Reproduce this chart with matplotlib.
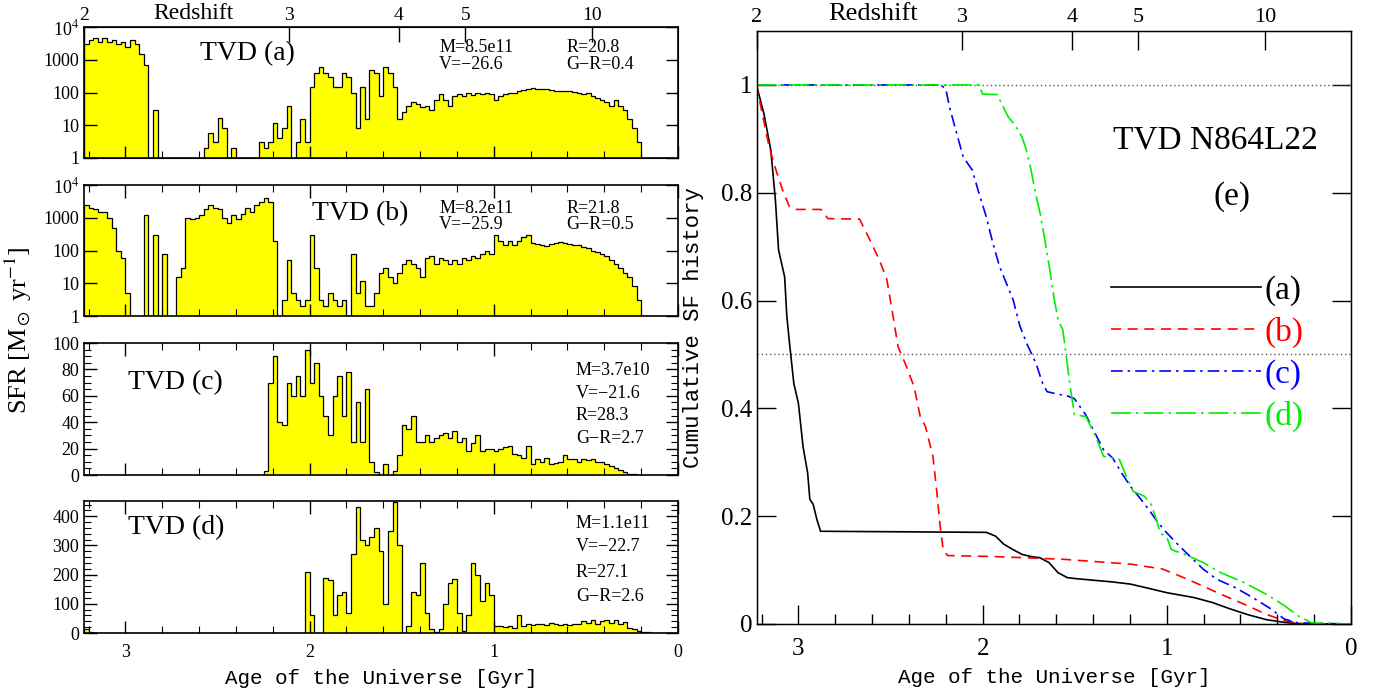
import numpy as np
import matplotlib
matplotlib.use("Agg")
import matplotlib.pyplot as plt
from matplotlib.ticker import MultipleLocator, FixedLocator, FixedFormatter, NullFormatter, LogLocator

plt.rcParams['font.family'] = ['Liberation Serif', 'DejaVu Serif']
plt.rcParams['mathtext.fontset'] = 'stix'

# ---------------- data ----------------
AGE_MAX = 3.225          # age of the Universe at z=2 [Gyr]
BIN = 0.025              # histogram bin width [Gyr]

# SFR histograms, bins listed left (age 3.225) -> right (age 0)
sfr_a = [3000, 4000, 4500, 3500, 4500, 3500, 4000, 3000, 3500, 2500,
         4000, 3000, 1500, 700, 0, 30, 0, 0, 0, 0,
         0, 0, 0, 0, 0, 0, 2, 6, 3, 17,
         8, 0, 2, 0, 0, 0, 0, 0, 3, 2,
         3, 12, 4, 8, 40, 0, 3, 15, 3, 150,
         400, 600, 400, 300, 150, 150, 400, 300, 100, 8,
         150, 15, 500, 400, 80, 600, 400, 150, 15, 25,
         40, 50, 45, 35, 40, 30, 60, 90, 60, 40,
         80, 90, 80, 100, 85, 95, 90, 100, 90, 60,
         80, 90, 100, 100, 110, 120, 130, 140, 130, 130,
         125, 120, 110, 110, 115, 110, 105, 100, 90, 100,
         80, 70, 60, 50, 40, 60, 40, 30, 15, 8,
         3, 1, 0, 0, 0, 0, 0, 0, 0]

sfr_b = [2500, 2000, 1800, 1500, 1500, 1000, 500, 100, 60, 5,
         0, 0, 0, 1200, 0, 300, 0, 80, 0, 0,
         15, 30, 1000, 900, 1000, 1200, 1800, 2500, 2000, 1800,
         1000, 700, 1200, 900, 1300, 2000, 1500, 2500, 3000, 4000,
         3000, 200, 0, 3, 50, 5, 3, 2, 3, 300,
         30, 3, 2, 5, 3, 2, 3, 1, 80, 5,
         12, 2, 2, 5, 20, 30, 15, 10, 20, 40,
         50, 40, 30, 15, 60, 70, 40, 60, 50, 40,
         50, 40, 60, 50, 70, 60, 80, 100, 80, 300,
         200, 150, 200, 150, 200, 250, 300, 170, 160, 150,
         140, 160, 170, 180, 170, 160, 150, 150, 130, 120,
         100, 90, 80, 70, 50, 40, 30, 20, 15, 8,
         3, 1, 0, 0, 0, 0, 0, 0, 0]

sfr_c = [0, 0, 0, 0, 0, 0, 0, 0, 0, 0,
         0, 0, 0, 0, 0, 0, 0, 0, 0, 0,
         0, 0, 0, 0, 0, 0, 0, 0, 0, 0,
         0, 0, 0, 0, 0, 0, 0, 0, 0, 3,
         70, 90, 40, 38, 70, 60, 75, 60, 95, 70,
         85, 60, 45, 30, 60, 75, 45, 78, 25, 55,
         25, 65, 10, 2, 0, 8, 0, 3, 15, 38,
         35, 45, 25, 25, 30, 25, 28, 30, 32, 28,
         33, 25, 28, 18, 24, 30, 18, 20, 20, 18,
         20, 21, 22, 16, 15, 13, 22, 8, 12, 10,
         13, 8, 9, 10, 15, 12, 12, 10, 12, 11,
         12, 10, 10, 8, 7, 5, 4, 2, 1, 0.5,
         0, 0, 0, 0, 0, 0, 0, 0, 0]

sfr_d = [15, 2, 0, 0, 0, 0, 0, 0, 0, 0,
         0, 0, 0, 0, 0, 0, 0, 0, 0, 0,
         0, 0, 0, 0, 0, 0, 0, 0, 0, 0,
         0, 0, 0, 0, 0, 0, 0, 0, 0, 0,
         0, 0, 0, 0, 0, 0, 0, 0, 210, 60,
         0, 0, 190, 180, 60, 130, 140, 70, 270, 430,
         320, 300, 330, 360, 280, 100, 350, 450, 300, 0,
         25, 140, 130, 240, 70, 15, 5, 12, 100, 170,
         185, 70, 8, 60, 240, 200, 110, 170, 130, 25,
         25, 20, 25, 18, 60, 25, 30, 28, 30, 32,
         28, 35, 30, 28, 30, 28, 32, 30, 40, 35,
         45, 30, 40, 45, 35, 45, 30, 38, 18, 12,
         6, 4, 2, 0, 0, 0, 0, 0, 0]

# cumulative SF histories (age [Gyr], fraction)
cum_a_age = [3.228, 3.187, 3.15, 3.125, 3.108, 3.075, 3.063, 3.05, 3.025, 3.0,
             2.975, 2.95, 2.938, 2.92, 2.90, 2.88, 1.98, 1.93, 1.885, 1.835,
             1.785, 1.735, 1.69, 1.64, 1.59, 1.54, 1.49, 1.294, 1.197, 1.097,
             0.999, 0.852, 0.754, 0.656, 0.557, 0.459, 0.361, 0.287, 0.0]
cum_a = [1.0, 0.946, 0.879, 0.786, 0.694, 0.644, 0.571, 0.526, 0.446, 0.409,
         0.329, 0.28, 0.231, 0.222, 0.194, 0.172, 0.170, 0.163, 0.148, 0.138,
         0.129, 0.125, 0.123, 0.114, 0.095, 0.086, 0.084, 0.078, 0.074, 0.066,
         0.058, 0.049, 0.040, 0.028, 0.017, 0.008, 0.003, 0.0006, 0.0]

cum_b_age = [3.228, 3.196, 3.159, 3.122, 3.086, 3.049, 3.013, 2.877, 2.84, 2.668,
             2.62, 2.56, 2.52, 2.483, 2.459, 2.42, 2.372, 2.339, 2.31, 2.27,
             2.25, 2.231, 2.214, 2.19, 1.93, 1.56, 1.195, 1.024, 0.95, 0.828,
             0.705, 0.582, 0.46, 0.361, 0.263, 0.0]
cum_b = [1.0, 0.946, 0.885, 0.842, 0.805, 0.774, 0.769, 0.769, 0.752, 0.751,
         0.718, 0.675, 0.639, 0.564, 0.514, 0.483, 0.44, 0.385, 0.366, 0.311,
         0.249, 0.182, 0.138, 0.127, 0.125, 0.12, 0.111, 0.102, 0.092, 0.074,
         0.055, 0.037, 0.018, 0.006, 0.0006, 0.0]

cum_c_age = [3.228, 2.23, 2.20, 2.18, 2.14, 2.105, 2.056, 2.02, 1.98, 1.944,
             1.908, 1.871, 1.834, 1.797, 1.76, 1.71, 1.674, 1.65, 1.614, 1.54,
             1.502, 1.44, 1.39, 1.343, 1.294, 1.245, 1.197, 1.147, 1.097, 1.048,
             1.0, 0.95, 0.876, 0.803, 0.729, 0.631, 0.533, 0.435, 0.361, 0.287, 0.0]
cum_c = [1.0, 1.0, 0.993, 0.959, 0.909, 0.866, 0.842, 0.799, 0.755, 0.706,
         0.663, 0.632, 0.601, 0.552, 0.52, 0.483, 0.446, 0.431, 0.428, 0.423,
         0.418, 0.388, 0.354, 0.323, 0.308, 0.28, 0.255, 0.234, 0.212, 0.188,
         0.169, 0.151, 0.126, 0.102, 0.083, 0.068, 0.049, 0.028, 0.009, 0.002, 0.0]

cum_d_age = [3.228, 2.02, 2.0, 1.92, 1.897, 1.86, 1.823, 1.786, 1.762, 1.737,
             1.713, 1.688, 1.662, 1.638, 1.614, 1.59, 1.565, 1.557, 1.527, 1.502,
             1.44, 1.39, 1.343, 1.294, 1.257, 1.22, 1.183, 1.122, 1.085, 1.06,
             1.036, 0.999, 0.975, 0.901, 0.803, 0.705, 0.582, 0.459, 0.361, 0.287,
             0.214, 0.0]
cum_d = [1.0, 1.0, 0.983, 0.982, 0.965, 0.94, 0.925, 0.903, 0.879, 0.842,
         0.799, 0.762, 0.712, 0.663, 0.608, 0.564, 0.546, 0.526, 0.446, 0.388,
         0.385, 0.351, 0.311, 0.308, 0.305, 0.274, 0.246, 0.237, 0.222, 0.197,
         0.169, 0.16, 0.138, 0.129, 0.114, 0.095, 0.077, 0.055, 0.034, 0.015,
         0.002, 0.0]

panel_labels = ['TVD (a)', 'TVD (b)', 'TVD (c)', 'TVD (d)']
panel_info = [['M=8.5e11', 'V=\u221226.6', 'R=20.8', 'G\u2212R=0.4'],
              ['M=8.2e11', 'V=\u221225.9', 'R=21.8', 'G\u2212R=0.5'],
              ['M=3.7e10', 'V=\u221221.6', 'R=28.3', 'G\u2212R=2.7'],
              ['M=1.1e11', 'V=\u221222.7', 'R=27.1', 'G\u2212R=2.6']]
z_ticks = [2, 3, 4, 5, 10]
z_ticklabels = ['2', '3', '4', '5', '10']
age_ticklabels = ['3', '2', '1', '0']
curve_labels = ['(a)', '(b)', '(c)', '(d)']

# ---------------- helpers ----------------
OM, OL = 0.3, 0.7
_A = np.sqrt(OL / OM)


def z2age(z):
    z = np.asarray(z, dtype=float)
    return AGE_MAX * np.arcsinh(_A * (1 + z) ** -1.5) / np.arcsinh(_A * 3.0 ** -1.5)


edges = np.arange(len(sfr_a) + 1) * BIN  # ascending ages 0 .. 3.225

W, H = 1387, 696
fig = plt.figure(figsize=(W / 100, H / 100), dpi=100)


def fx(px):
    return px / W


def fy(py):
    return 1 - py / H


left_x0, left_x1 = 84, 678
panels_px = [(27, 158), (185, 316), (343, 475), (501, 633)]
serie = [sfr_a, sfr_b, sfr_c, sfr_d]

mono = ['Liberation Mono', 'DejaVu Sans Mono']

# text placement (axes fractions)
label_pos = [(0.195, 0.80), (0.384, 0.78), (0.074, 0.70), (0.074, 0.80)]
info_x = [(0.598, 0.812), (0.598, 0.812), (0.828,), (0.828,)]
info_y = [(0.84, 0.71), (0.82, 0.70), (0.795, 0.62, 0.45, 0.28), (0.833, 0.652, 0.462, 0.273)]

for k, (top, bot) in enumerate(panels_px):
    ax = fig.add_axes([fx(left_x0), fy(bot), fx(left_x1 - left_x0), (bot - top) / H])
    vals = np.asarray(serie[k], dtype=float)[::-1]
    if k < 2:
        ax.set_yscale('log')
        v = np.clip(vals, 1e-2, None)
        ax.stairs(v, edges, fill=True, color='#ffff00', baseline=1e-2, lw=0)
        ax.stairs(v, edges, color='black', baseline=1e-2, lw=0.9)
        ax.set_ylim(1, 1e4)
        ax.yaxis.set_major_locator(FixedLocator([1, 10, 100, 1000, 1e4]))
        ax.yaxis.set_major_formatter(FixedFormatter(['1', '10', '100', '1000', r'10$^4$']))
        ax.yaxis.set_minor_locator(LogLocator(base=10, subs=np.arange(2, 10)))
        ax.yaxis.set_minor_formatter(NullFormatter())
    else:
        ax.stairs(vals, edges, fill=True, color='#ffff00', lw=0)
        ax.stairs(vals, edges, color='black', lw=0.9)
        if k == 2:
            ax.set_ylim(0, 100)
            ax.yaxis.set_major_locator(MultipleLocator(20))
            ax.yaxis.set_minor_locator(MultipleLocator(5))
        else:
            ax.set_ylim(0, 452)
            ax.yaxis.set_major_locator(MultipleLocator(100))
            ax.yaxis.set_minor_locator(MultipleLocator(20))
    ax.set_xlim(AGE_MAX, 0)
    ax.xaxis.set_major_locator(FixedLocator([3, 2, 1, 0]))
    ax.xaxis.set_minor_locator(MultipleLocator(0.2))
    ax.tick_params(which='both', direction='in', top=(k != 0), right=True, labelsize=13)
    ax.tick_params(axis='x', which='major', pad=8)
    ax.tick_params(which='major', length=9, width=1)
    ax.tick_params(which='minor', length=5, width=0.8)
    if k == 3:
        ax.set_xticklabels(age_ticklabels)
        ax.set_xlabel('Age of the Universe [Gyr]', family=mono, fontsize=15, labelpad=6)
    else:
        ax.set_xticklabels([])
    for s in ax.spines.values():
        s.set_linewidth(1.2)

    # annotations
    lx, ly = label_pos[k]
    ax.text(lx, ly, panel_labels[k], transform=ax.transAxes, fontsize=20, va='center')
    if k < 2:
        xs = info_x[k]
        ys = info_y[k]
        ax.text(xs[0], ys[0], panel_info[k][0], transform=ax.transAxes, fontsize=13, va='center')
        ax.text(xs[0], ys[1], panel_info[k][1], transform=ax.transAxes, fontsize=13, va='center')
        ax.text(xs[1], ys[0], panel_info[k][2], transform=ax.transAxes, fontsize=13, va='center')
        ax.text(xs[1], ys[1], panel_info[k][3], transform=ax.transAxes, fontsize=13, va='center')
    else:
        for t, yy in zip(panel_info[k], info_y[k]):
            ax.text(info_x[k][0], yy, t, transform=ax.transAxes, fontsize=13, va='center')

    if k == 0:
        axz = ax.twiny()
        axz.set_xlim(AGE_MAX, 0)
        axz.set_xticks(z2age(z_ticks))
        axz.set_xticklabels(z_ticklabels)
        axz.tick_params(axis='x', direction='in', length=11, width=1, labelsize=14, pad=2)
        axz.minorticks_off()
        ax.text(0.185, 1.02, 'Redshift', transform=ax.transAxes, fontsize=17,
                ha='center', va='bottom')

fig.text(fx(18), fy(330), r'SFR [M$_\odot$ yr$^{-1}$]', rotation=90, fontsize=19,
         ha='center', va='center')

# ---------------- right panel ----------------
rx0, rx1, ry0, ry1 = 757, 1351, 31, 624
axr = fig.add_axes([fx(rx0), fy(ry1), fx(rx1 - rx0), (ry1 - ry0) / H])
axr.axhline(1.0, color='0.35', lw=1, ls=(0, (1, 2)))
axr.axhline(0.5, color='0.35', lw=1, ls=(0, (1, 2)))
la, = axr.plot(cum_a_age, cum_a, color='black', lw=1.2, ls='-')
lb, = axr.plot(cum_b_age, cum_b, color='#ff0000', lw=1.2, ls=(0, (6, 4)))
lc, = axr.plot(cum_c_age, cum_c, color='#0000ff', lw=1.2, ls=(0, (7, 3, 1.5, 3)))
ld, = axr.plot(cum_d_age, cum_d, color='#00ee00', lw=1.2, ls=(0, (12, 3, 1.5, 3)))
axr.set_xlim(AGE_MAX, 0)
axr.set_ylim(0, 1.1)
axr.xaxis.set_major_locator(FixedLocator([3, 2, 1, 0]))
axr.set_xticklabels(age_ticklabels)
axr.xaxis.set_minor_locator(MultipleLocator(0.2))
axr.yaxis.set_major_locator(FixedLocator([0, 0.2, 0.4, 0.6, 0.8, 1.0]))
axr.yaxis.set_major_formatter(FixedFormatter(['0', '0.2', '0.4', '0.6', '0.8', '1']))
axr.yaxis.set_minor_locator(MultipleLocator(0.05))
axr.tick_params(which='both', direction='in', top=False, right=True, labelsize=18)
axr.tick_params(axis='x', which='major', pad=10)
axr.tick_params(which='major', length=14, width=1)
axr.tick_params(which='minor', length=7, width=1)
for s in axr.spines.values():
    s.set_linewidth(1.0)
axr.set_xlabel('Age of the Universe [Gyr]', family=mono, fontsize=15, labelpad=6)
axr.set_ylabel('Cumulative SF history', family=mono, fontsize=16, labelpad=12)

axrz = axr.twiny()
axrz.set_xlim(AGE_MAX, 0)
axrz.set_xticks(z2age(z_ticks))
axrz.set_xticklabels(z_ticklabels)
axrz.tick_params(axis='x', direction='in', length=14, width=1, labelsize=16, pad=3)
axrz.minorticks_off()
axr.text(0.195, 1.01, 'Redshift', transform=axr.transAxes, fontsize=19,
         ha='center', va='bottom')

axr.text(0.60, 0.816, 'TVD N864L22', transform=axr.transAxes, fontsize=24, va='center')
axr.text(0.80, 0.72, '(e)', transform=axr.transAxes, fontsize=24, va='center', ha='center')

leg = axr.legend([la, lb, lc, ld], curve_labels, loc='upper left',
                 bbox_to_anchor=(0.596, 0.588), frameon=False, fontsize=24,
                 handlelength=4.5, handletextpad=0.1, labelspacing=0.33,
                 borderpad=0, borderaxespad=0, labelcolor='linecolor')

fig.savefig('out.png', dpi=100)
